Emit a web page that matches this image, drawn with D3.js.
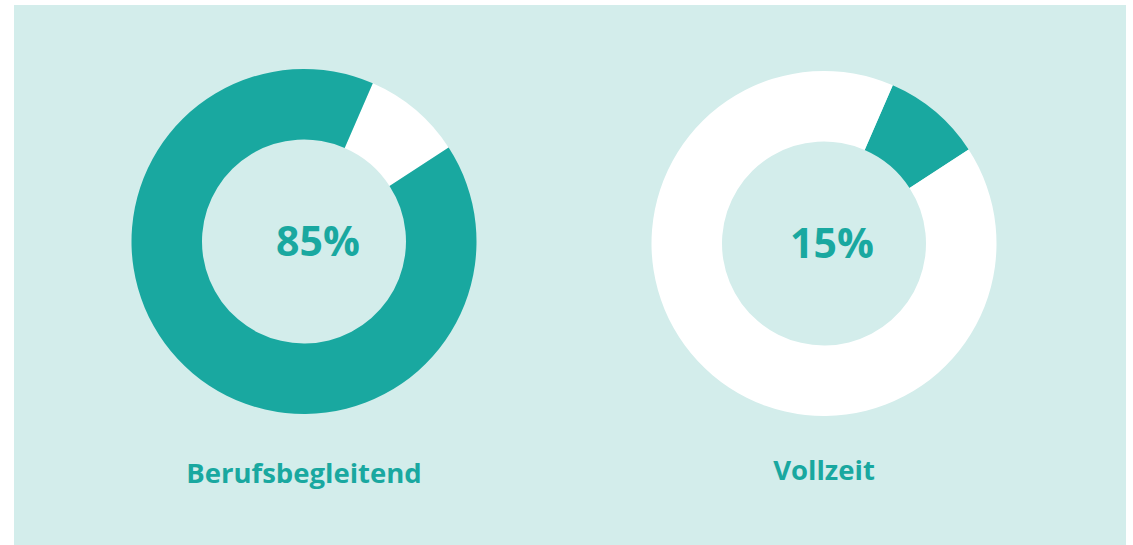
<!DOCTYPE html>
<html>
<head>
<meta charset="utf-8">
<script src="https://cdn.jsdelivr.net/npm/d3@7"></script>
<style>
  body { margin: 0; background: #ffffff; }
  text { font-family: "Open Sans", "Noto Sans", sans-serif; font-weight: 700; }
</style>
</head>
<body>
<svg id="chart" width="1133" height="545"></svg>
<script>
// data
var categories = ["Berufsbegleitend", "Vollzeit"];
var percentLabels = ["85%", "15%"];
// ring split as drawn: small cut-out segment vs. rest (percent of full circle)
var segmentShares = [9.3, 9.3];
var restShares = [90.7, 90.7];
var segmentStartDeg = 23.5;

var teal = "#19a8a0";
var panelColor = "#d3edeb";
var mainColors = [teal, "#ffffff"];
var segmentColors = ["#ffffff", teal];

var svg = d3.select("#chart");

// background panel
svg.append("rect")
  .attr("x", 14)
  .attr("y", 5)
  .attr("width", 1112)
  .attr("height", 540)
  .attr("fill", panelColor);

var centers = [[304, 241.5], [824, 243.5]];
var pctDx = [14, 8];
var labelY = [483, 480];

var arc = d3.arc()
  .innerRadius(102)
  .outerRadius(172.5);

var start = segmentStartDeg * Math.PI / 180;
var pie = d3.pie()
  .sort(null)
  .value(function(d) { return d.value; })
  .startAngle(start)
  .endAngle(start + 2 * Math.PI);

categories.forEach(function(cat, i) {
  var g = svg.append("g")
    .attr("transform", "translate(" + centers[i][0] + "," + centers[i][1] + ")");

  var slices = pie([
    { value: segmentShares[i], color: segmentColors[i] },
    { value: restShares[i], color: mainColors[i] }
  ]);

  g.selectAll("path")
    .data(slices)
    .enter().append("path")
    .attr("d", arc)
    .attr("fill", function(d) { return d.data.color; });

  // percentage in the middle
  g.append("text")
    .attr("x", pctDx[i])
    .attr("y", 14.5)
    .attr("text-anchor", "middle")
    .attr("font-size", 41)
    .attr("fill", teal)
    .text(percentLabels[i]);

  // category name below
  svg.append("text")
    .attr("x", centers[i][0])
    .attr("y", labelY[i])
    .attr("text-anchor", "middle")
    .attr("font-size", 27.5)
    .attr("fill", teal)
    .text(cat);
});
</script>
</body>
</html>
